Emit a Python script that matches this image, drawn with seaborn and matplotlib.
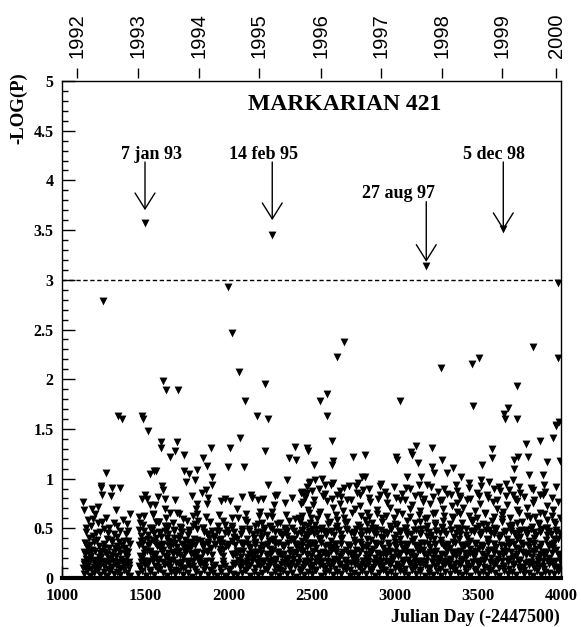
import matplotlib
matplotlib.use("Agg")
import matplotlib.pyplot as plt
import seaborn as sns
import pandas as pd
from matplotlib.ticker import MultipleLocator, FuncFormatter

# ---------------- data (Julian Day - 2447500, -log P) ----------------
high_points = [
    (1499, 3.57), (2264, 3.45), (3190, 3.14), (3653, 3.51), (3984, 2.97), (1996, 2.93), (1246, 2.79), (2024, 2.46),
    (2064, 2.07), (2223, 1.95), (2102, 1.78), (1605, 1.98), (1627, 1.89), (1697, 1.89), (1339, 1.63), (1363, 1.60),
    (1479, 1.63), (1489, 1.60), (1519, 1.48), (2174, 1.63), (2240, 1.60), (2695, 2.37), (2653, 2.22), (3279, 2.11),
    (3463, 2.15), (3505, 2.21), (3830, 2.32), (3984, 2.21), (3736, 1.93), (2591, 1.85), (2551, 1.78), (3034, 1.78),
    (3473, 1.73), (3684, 1.71), (3657, 1.65), (3662, 1.60), (3736, 1.60), (2595, 1.63), (3970, 1.54), (3990, 1.57),
    (1595, 1.37), (1593, 1.31), (1693, 1.37), (1681, 1.28), (1651, 1.22), (1732, 1.24), (1846, 1.21), (1896, 1.31),
    (2072, 1.41), (2008, 1.31), (2220, 1.28), (2399, 1.32), (2475, 1.31), (2367, 1.21), (2405, 1.19), (2000, 1.12),
    (2096, 1.12), (1872, 1.13), (1812, 1.09), (1733, 1.08), (1762, 1.05), (1567, 1.08), (1551, 1.08), (1529, 1.05),
    (1266, 1.06), (1900, 1.02), (2625, 1.38), (2477, 1.28), (2513, 1.14), (2625, 1.14), (2629, 1.18), (2750, 1.22),
    (2822, 1.24), (3010, 1.22), (3012, 1.19), (3098, 1.27), (3102, 1.24), (3130, 1.33), (3224, 1.31), (3142, 1.16),
    (3286, 1.19), (3222, 1.12), (3234, 1.06), (3313, 1.06), (3351, 1.11), (3527, 1.14), (3583, 1.30), (3583, 1.21),
    (3719, 1.19), (3743, 1.22), (3715, 1.10), (3800, 1.22), (3792, 1.35), (3874, 1.38), (3952, 1.41), (3968, 1.53),
    (3992, 1.18), (3914, 1.17), (3810, 1.04), (3894, 1.04), (3400, 1.02), (3072, 1.02), (3158, 1.02), (2804, 1.02),
    (2822, 1.02), (2561, 1.00),
]

mid_left = [
    (1232, .93), (1236, .91), (1302, .91), (1351, .91), (1240, .84), (1293, .82), (1126, .76), (1132, .68), (1178, .69), (1218, .71),
    (1198, .64), (1186, .59), (1326, .68), (1409, .64), (1391, .54), (1243, .56), (1174, .52), (1142, .46), (1254, .49), (1271, .39),
    (1194, .36), (1136, .35), (1349, .47), (1397, .47), (1399, .37), (1332, .41), (1359, .33), (1293, .38), (1222, .32), (1310, .44),
    (1160, .40), (1205, .45), (1280, .30), (1380, .30), (1150, .31), (1265, .60), (1315, .55), (1365, .58),
    (1185, .42), (1255, .30), (1345, .36), (1215, .55), (1155, .58), (1285, .50),
    (1140, .35), (1170, .33), (1210, .38), (1250, .34), (1300, .36), (1330, .32), (1375, .37), (1410, .34),
    (1145, .50), (1230, .46), (1275, .45), (1330, .52), (1385, .44),
]

mid_center = [
    (1802, .99), (1747, .97), (1902, .94), (1866, .89), (1840, .86), (2238, .94), (2353, .99), (2485, .96), (1501, .83), (1599, .93),
    (1609, .89), (1621, .79), (1511, .79), (1956, .77), (2008, .77), (1870, .74), (1812, .74), (1808, .69), (1814, .64), (2050, .69),
    (2058, .60), (2138, .84), (2140, .80), (2206, .79), (2275, .73), (2293, .84), (2343, .75), (2435, .86), (2471, .86), (2435, .74),
    (2483, .65), (2190, .66), (2231, .62), (2263, .66), (2401, .59), (2363, .57), (2180, .54), (2122, .49), (1966, .57), (1870, .44),
    (1918, .34), (1820, .57), (1729, .59), (1750, .57), (1693, .65), (1649, .65), (1565, .56), (1581, .56), (1617, .47), (1519, .43),
    (1633, .40), (1707, .42), (1477, .37), (1531, .73), (1561, .73), (1621, .69),
    (1460, .48), (1470, .55), (1490, .62), (1540, .50), (1550, .38), (1575, .33), (1590, .45), (1640, .52), (1660, .36), (1675, .48),
    (1690, .31), (1715, .50), (1740, .38), (1765, .46), (1780, .33), (1790, .52), (1835, .37), (1850, .50), (1885, .40), (1895, .30),
    (1930, .47), (1945, .38), (1980, .45), (1995, .32), (2020, .52), (2035, .40), (2075, .35), (2085, .47), (2100, .58), (2110, .39),
    (2150, .44), (2160, .33), (2200, .42), (2215, .50), (2245, .37), (2250, .52), (2280, .46), (2300, .35), (2310, .55), (2325, .42),
    (2340, .48), (2375, .38), (2385, .50), (2415, .44), (2420, .33), (2450, .53), (2460, .40), (2495, .47), (2500, .35), (1545, .64),
]

mid_right = [
    (2491, .97), (2523, .99), (2579, .94), (2627, .96), (2724, .93), (2780, .96), (2912, .93), (3196, .94), (3447, .96), (3519, .99),
    (3569, .97), (3629, .92), (3685, .89), (3713, .99),
    (2441, .87), (2461, .84), (2501, .88), (2581, .85), (2651, .83), (2671, .88), (2772, .86), (2812, .89), (2912, .84), (2942, .87),
    (3042, .85), (3092, .90), (3152, .83), (3263, .87), (3313, .85), (3373, .88), (3393, .82), (3493, .86), (3553, .84), (3633, .88),
    (3714, .83), (3754, .86), (3834, .89), (3874, .84), (3904, .87),
    (2451, .76), (2511, .73), (2591, .77), (2671, .74), (2712, .78), (2792, .72), (2852, .76), (2952, .75), (3032, .78), (3102, .73),
    (3172, .76), (3213, .74), (3273, .77), (3343, .72), (3373, .75), (3433, .78), (3513, .74), (3593, .76), (3673, .73), (3734, .77),
    (3834, .75), (3914, .72), (3984, .76),
    (2481, .68), (2551, .66), (2631, .70), (2692, .67), (2762, .69), (2832, .65), (2892, .68), (2972, .70), (3012, .66), (3092, .69),
    (3152, .67), (3233, .64), (3293, .69), (3373, .66), (3413, .70), (3483, .67), (3543, .65), (3613, .69), (3653, .66), (3734, .68),
    (3794, .70), (3874, .65), (3954, .68),
    (2431, .57), (2491, .55), (2531, .59), (2601, .54), (2651, .58), (2712, .56), (2782, .53), (2822, .58), (2862, .55), (2922, .60),
    (3002, .54), (3072, .57), (3122, .55), (3183, .59), (3243, .53), (3293, .57), (3353, .60), (3403, .55), (3473, .58), (3533, .54),
    (3583, .57), (3643, .59), (3704, .53), (3764, .56), (3814, .60), (3864, .55), (3914, .58), (3964, .54),
    (2440, .47), (2468, .44), (2500, .49), (2531, .45), (2560, .48), (2590, .43), (2621, .47), (2650, .50), (2680, .44), (2712, .48),
    (2740, .45), (2770, .49), (2800, .43), (2830, .47), (2862, .50), (2890, .44), (2920, .48), (2952, .45), (2980, .49), (3010, .43),
    (3040, .47), (3070, .50), (3100, .44), (3130, .48), (3160, .45), (3190, .49), (3220, .43), (3250, .47), (3282, .50), (3310, .44),
    (3340, .48), (3370, .45), (3400, .49), (3430, .43), (3460, .47), (3490, .50), (3520, .44), (3550, .48), (3580, .45), (3610, .49),
    (3640, .43), (3670, .47), (3700, .50), (3730, .44), (3760, .48), (3790, .45), (3820, .49), (3850, .43), (3880, .47), (3910, .50),
    (3940, .44), (3970, .48), (3995, .45),
]

row_092 = [
    (2470, .92), (2545, .90), (2620, .94), (2695, .91), (2770, .93), (2845, .90), (2920, .95), (2995, .92), (3070, .91), (3145, .94),
    (3220, .92), (3295, .90), (3370, .94), (3445, .91), (3520, .93), (3595, .90), (3670, .95), (3745, .92), (3820, .91), (3895, .94),
    (3970, .92),
]

row_080 = [
    (2460, .80), (2515, .78), (2570, .82), (2625, .79), (2680, .81), (2735, .78), (2790, .83), (2845, .80), (2900, .79), (2955, .82),
    (3010, .80), (3065, .78), (3120, .82), (3175, .79), (3230, .81), (3285, .78), (3340, .83), (3395, .80), (3450, .79), (3505, .82),
    (3560, .80), (3615, .78), (3670, .82), (3725, .79), (3780, .81), (3835, .78), (3890, .83), (3945, .80),
    (1480, .79), (1580, .81), (1680, .78), (1780, .82), (1880, .80), (1980, .79), (2080, .81), (2180, .78), (2280, .82), (2380, .80),
]

row_062 = [
    (2445, .62), (2495, .60), (2545, .64), (2595, .61), (2645, .63), (2695, .60), (2745, .65), (2795, .62), (2845, .61), (2895, .64),
    (2945, .62), (2995, .60), (3045, .64), (3095, .61), (3145, .63), (3195, .60), (3245, .65), (3295, .62), (3345, .61), (3395, .64),
    (3445, .62), (3495, .60), (3545, .64), (3595, .61), (3645, .63), (3695, .60), (3745, .65), (3795, .62), (3845, .61), (3895, .64),
    (3945, .62), (3995, .60),
    (1465, .61), (1545, .63), (1625, .60), (1705, .64), (1785, .62), (1865, .61), (1945, .63), (2025, .60), (2105, .64), (2185, .62),
    (2265, .61), (2345, .63), (2425, .60),
]

row_052 = [
    (1485, .53), (1530, .50), (1575, .56), (1620, .52), (1665, .55), (1710, .51), (1800, .54), (1845, .50), (1890, .56), (1935, .52),
    (1980, .53), (2025, .50), (2115, .56), (2160, .52), (2205, .55), (2250, .51), (2295, .54), (2340, .50), (2430, .56), (2475, .52),
    (2520, .53), (2565, .50), (2610, .56), (2655, .52), (2700, .55), (2790, .51), (2835, .54), (2880, .50), (2925, .56), (2970, .52),
    (3015, .53), (3060, .50), (3150, .56), (3195, .52), (3240, .55), (3285, .51), (3330, .54), (3375, .50), (3465, .56), (3510, .52),
    (3555, .53), (3600, .50), (3645, .56), (3690, .52), (3735, .55), (3825, .51), (3870, .54), (3915, .50), (3960, .56),
]

row_047 = [
    (1495, .47), (1540, .48), (1585, .46), (1630, .49), (1675, .47), (1720, .46), (1765, .48), (1810, .49), (1855, .46), (1900, .47),
    (1945, .47), (1990, .48), (2035, .46), (2080, .49), (2125, .47), (2170, .46), (2215, .48), (2260, .49), (2305, .46), (2350, .47),
    (2395, .47), (2440, .48), (2485, .46), (2530, .49), (2575, .47), (2620, .46), (2665, .48), (2710, .49), (2755, .46), (2800, .47),
    (2845, .47), (2890, .48), (2935, .46), (2980, .49), (3025, .47), (3070, .46), (3115, .48), (3160, .49), (3205, .46), (3250, .47),
    (3295, .47), (3340, .48), (3385, .46), (3430, .49), (3475, .47), (3520, .46), (3565, .48), (3610, .49), (3655, .46), (3700, .47),
    (3745, .47), (3790, .48), (3835, .46), (3880, .49), (3925, .47), (3970, .46),
]

row_042 = [
    (1475, .42), (1515, .39), (1555, .45), (1595, .41), (1635, .44), (1675, .40), (1715, .46), (1755, .43), (1795, .39), (1875, .44),
    (1915, .42), (1955, .39), (1995, .45), (2035, .41), (2075, .44), (2155, .40), (2195, .46), (2235, .43), (2275, .39), (2315, .44),
    (2355, .42), (2395, .39), (2435, .45), (2475, .41), (2515, .44), (2555, .40), (2595, .46), (2635, .43), (2675, .39), (2755, .44),
    (2795, .42), (2835, .39), (2875, .45), (2915, .41), (2955, .44), (2995, .40), (3035, .46), (3075, .43), (3115, .39), (3155, .44),
    (3195, .42), (3235, .39), (3275, .45), (3355, .41), (3395, .44), (3435, .40), (3475, .46), (3515, .43), (3555, .39), (3595, .44),
    (3635, .42), (3675, .39), (3715, .45), (3755, .41), (3795, .44), (3835, .40), (3875, .46), (3915, .43), (3955, .39), (3995, .44),
]

row_036 = [
    (1460, .33), (1495, .38), (1530, .35), (1565, .40), (1600, .32), (1635, .37), (1670, .34), (1705, .39), (1740, .31), (1775, .36),
    (1810, .38), (1845, .33), (1880, .36), (1915, .40), (1950, .35), (1985, .32), (2020, .37), (2055, .39), (2090, .34), (2125, .31),
    (2160, .36), (2195, .40), (2230, .33), (2265, .38), (2300, .35), (2335, .32), (2370, .39), (2405, .34), (2440, .37), (2475, .31),
    (2510, .35), (2545, .39), (2580, .32), (2615, .37), (2650, .34), (2685, .40), (2720, .33), (2755, .38), (2790, .36), (2825, .31),
    (2860, .38), (2895, .34), (2930, .40), (2965, .32), (3000, .36), (3035, .39), (3070, .33), (3105, .37), (3140, .31), (3175, .35),
    (3210, .40), (3245, .34), (3280, .38), (3315, .32), (3350, .36), (3385, .39), (3420, .33), (3455, .37), (3490, .35), (3525, .31),
    (3560, .38), (3595, .34), (3630, .40), (3665, .32), (3700, .36), (3735, .39), (3770, .33), (3805, .37), (3840, .35), (3875, .31),
    (3910, .38), (3945, .34), (3980, .39),
]

row_034 = [
    (1480, .34), (1520, .33), (1560, .35), (1600, .34), (1640, .33), (1680, .35), (1720, .34), (1760, .35), (1800, .33), (1840, .34),
    (1880, .34), (1920, .33), (1960, .35), (2000, .34), (2040, .33), (2080, .35), (2120, .34), (2160, .35), (2200, .33), (2240, .34),
    (2280, .34), (2320, .33), (2360, .35), (2400, .34), (2440, .33), (2480, .35), (2520, .34), (2560, .35), (2600, .33), (2640, .34),
    (2680, .34), (2720, .33), (2760, .35), (2800, .34), (2840, .33), (2880, .35), (2920, .34), (2960, .35), (3000, .33), (3040, .34),
    (3080, .34), (3120, .33), (3160, .35), (3200, .34), (3240, .33), (3280, .35), (3320, .34), (3360, .35), (3400, .33), (3440, .34),
    (3480, .34), (3520, .33), (3560, .35), (3600, .34), (3640, .33), (3680, .35), (3720, .34), (3760, .35), (3800, .33), (3840, .34),
    (3880, .34), (3920, .33), (3960, .35),
]

low_left = [
    (1130, .04), (1150, .07), (1170, .02), (1190, .05), (1210, .08), (1230, .03), (1250, .06), (1270, .02), (1290, .07), (1310, .04),
    (1330, .06), (1350, .03), (1370, .08), (1390, .05), (1410, .02),
    (1135, .14), (1165, .18), (1195, .11), (1225, .16), (1255, .12), (1285, .19), (1315, .15), (1345, .10), (1375, .17), (1400, .13),
    (1140, .24), (1180, .28), (1220, .21), (1260, .26), (1300, .23), (1340, .29), (1380, .25),
    (1125, .10), (1150, .12), (1175, .09), (1200, .13), (1225, .10), (1250, .12), (1275, .09), (1300, .11), (1325, .13), (1350, .09),
    (1375, .12), (1405, .10),
    (1145, .19), (1175, .22), (1205, .18), (1235, .21), (1265, .17), (1295, .20), (1325, .22), (1355, .19), (1390, .21),
    (1160, .28), (1240, .27), (1320, .30), (1395, .26),
    (1130, .16), (1160, .15), (1190, .17), (1220, .14), (1250, .16), (1280, .15), (1310, .17), (1340, .16), (1370, .14), (1400, .16),
    (1135, .26), (1165, .24), (1200, .27), (1230, .25), (1270, .24), (1310, .26), (1350, .25), (1385, .27),
]

low_a = [
    (1455, .04), (1480, .07), (1505, .02), (1530, .06), (1555, .03), (1580, .08), (1605, .05), (1630, .02), (1655, .06), (1680, .04),
    (1705, .07), (1730, .03), (1755, .05), (1780, .01), (1805, .06), (1830, .04), (1855, .08), (1880, .03), (1905, .05), (1930, .02),
    (1955, .06), (1980, .02), (2005, .07), (2030, .04), (2055, .03), (2080, .05), (2105, .08), (2130, .02), (2155, .06), (2180, .03),
    (2205, .05), (2230, .08), (2255, .03), (2280, .06), (2305, .02), (2330, .07), (2355, .04), (2380, .05), (2405, .01), (2430, .06),
    (2455, .03), (2480, .06), (2505, .04), (2530, .08), (2555, .02), (2580, .05), (2605, .07), (2630, .03), (2655, .06), (2680, .04),
    (2705, .08), (2730, .02), (2755, .05), (2780, .03), (2805, .07), (2830, .04), (2855, .06), (2880, .02), (2905, .05), (2930, .08),
    (2955, .04), (2980, .06), (3005, .02), (3030, .07), (3055, .05), (3080, .03), (3105, .08), (3130, .04), (3155, .06), (3180, .02),
    (3205, .05), (3230, .03), (3255, .07), (3280, .02), (3305, .06), (3330, .04), (3355, .08), (3380, .05), (3405, .03), (3430, .06),
    (3455, .02), (3480, .07), (3505, .04), (3530, .06), (3555, .03), (3580, .08), (3605, .05), (3630, .02), (3655, .07), (3680, .04),
    (3705, .06), (3730, .03), (3755, .08), (3780, .04), (3805, .05), (3830, .02), (3855, .07), (3880, .03), (3905, .06), (3930, .05),
    (3955, .04), (3980, .07),
]

low_b = [
    (1460, .12), (1490, .17), (1520, .14), (1550, .19), (1580, .11), (1610, .16), (1640, .13), (1670, .18), (1700, .15), (1730, .10),
    (1760, .16), (1790, .12), (1820, .19), (1850, .14), (1910, .11), (1970, .17), (2030, .13), (2060, .18), (2090, .15),
    (2120, .11), (2150, .19), (2180, .14), (2210, .17), (2240, .12), (2270, .18), (2300, .10), (2330, .16), (2360, .13), (2390, .19),
    (2420, .15), (2450, .11), (2480, .17), (2510, .13), (2540, .19), (2570, .12), (2600, .16), (2630, .14), (2660, .18), (2690, .10),
    (2720, .15), (2750, .19), (2780, .12), (2810, .17), (2840, .14), (2870, .11), (2900, .18), (2930, .13), (2960, .16), (2990, .19),
    (3020, .11), (3050, .15), (3080, .18), (3110, .12), (3140, .17), (3170, .14), (3200, .10), (3230, .16), (3260, .19), (3290, .13),
    (3320, .17), (3350, .11), (3380, .15), (3410, .19), (3440, .12), (3470, .16), (3500, .14), (3530, .18), (3560, .10), (3590, .15),
    (3620, .19), (3650, .12), (3680, .17), (3710, .13), (3740, .18), (3770, .11), (3800, .16), (3830, .14), (3860, .19), (3890, .12),
    (3920, .17), (3950, .15), (3980, .11),
]

low_c = [
    (1470, .22), (1510, .27), (1550, .24), (1590, .30), (1630, .21), (1670, .26), (1710, .23), (1750, .28), (1790, .25), (1830, .20),
    (1870, .26), (1950, .29), (2030, .23), (2070, .27), (2110, .21), (2150, .25), (2190, .30), (2230, .22),
    (2270, .28), (2310, .24), (2350, .20), (2390, .26), (2430, .29), (2470, .23), (2510, .27), (2550, .21), (2590, .25), (2630, .30),
    (2670, .22), (2710, .28), (2750, .24), (2790, .26), (2830, .20), (2870, .29), (2910, .23), (2950, .27), (2990, .21), (3030, .25),
    (3070, .30), (3110, .22), (3150, .28), (3190, .24), (3230, .26), (3270, .20), (3310, .29), (3350, .23), (3390, .27), (3430, .21),
    (3470, .25), (3510, .30), (3550, .22), (3590, .28), (3630, .24), (3670, .26), (3710, .20), (3750, .29), (3790, .23), (3830, .27),
    (3870, .21), (3910, .25), (3950, .30), (3990, .22),
]

low_d = [
    (1470, .10), (1500, .13), (1530, .08), (1560, .12), (1590, .09), (1620, .14), (1650, .11), (1680, .08), (1710, .13), (1740, .10),
    (1770, .12), (1800, .09), (1830, .14), (1860, .11), (1890, .08), (1920, .13), (1950, .10), (1980, .12), (2010, .09), (2040, .14),
    (2070, .11), (2100, .08), (2130, .13), (2160, .10), (2190, .12), (2220, .09), (2250, .14), (2280, .11), (2310, .08), (2340, .13),
    (2370, .10), (2400, .12), (2430, .09), (2460, .14), (2490, .11), (2520, .08), (2550, .13), (2580, .10), (2610, .12), (2640, .09),
    (2670, .14), (2700, .11), (2730, .08), (2760, .13), (2790, .10), (2820, .12), (2850, .09), (2880, .14), (2910, .11), (2940, .08),
    (2970, .13), (3000, .10), (3030, .12), (3060, .09), (3090, .14), (3120, .11), (3150, .08), (3180, .13), (3210, .10), (3240, .12),
    (3270, .09), (3300, .14), (3330, .11), (3360, .08), (3390, .13), (3420, .10), (3450, .12), (3480, .09), (3510, .14), (3540, .11),
    (3570, .08), (3600, .13), (3630, .10), (3660, .12), (3690, .09), (3720, .14), (3750, .11), (3780, .08), (3810, .13), (3840, .10),
    (3870, .12), (3900, .09), (3930, .14), (3960, .11), (3990, .08),
]

low_e = [
    (1480, .20), (1515, .17), (1550, .23), (1585, .19), (1620, .22), (1655, .18), (1690, .24), (1725, .21), (1760, .17), (1795, .22),
    (1830, .20), (1865, .17), (1900, .23), (1970, .22), (2040, .24), (2075, .21), (2110, .17), (2145, .22),
    (2180, .20), (2215, .17), (2250, .23), (2285, .19), (2320, .22), (2355, .18), (2390, .24), (2425, .21), (2460, .17), (2495, .22),
    (2530, .20), (2565, .17), (2600, .23), (2635, .19), (2670, .22), (2705, .18), (2740, .24), (2775, .21), (2810, .17), (2845, .22),
    (2880, .20), (2915, .17), (2950, .23), (2985, .19), (3020, .22), (3055, .18), (3090, .24), (3125, .21), (3160, .17), (3195, .22),
    (3230, .20), (3265, .17), (3300, .23), (3335, .19), (3370, .22), (3405, .18), (3440, .24), (3475, .21), (3510, .17), (3545, .22),
    (3580, .20), (3615, .17), (3650, .23), (3685, .19), (3720, .22), (3755, .18), (3790, .24), (3825, .21), (3860, .17), (3895, .22),
    (3930, .20), (3965, .17),
]

low_f = [
    (1490, .29), (1530, .26), (1570, .32), (1610, .28), (1650, .31), (1690, .27), (1730, .33), (1770, .30), (1810, .26), (1850, .31),
    (1970, .28), (2050, .27), (2090, .33), (2130, .30), (2170, .26), (2210, .31),
    (2250, .29), (2290, .26), (2330, .32), (2370, .28), (2410, .31), (2450, .27), (2490, .33), (2530, .30), (2570, .26), (2610, .31),
    (2650, .29), (2690, .26), (2730, .32), (2770, .28), (2810, .31), (2850, .27), (2890, .33), (2930, .30), (2970, .26), (3010, .31),
    (3050, .29), (3090, .26), (3130, .32), (3170, .28), (3210, .31), (3250, .27), (3290, .33), (3330, .30), (3370, .26), (3410, .31),
    (3450, .29), (3490, .26), (3530, .32), (3570, .28), (3610, .31), (3650, .27), (3690, .33), (3730, .30), (3770, .26), (3810, .31),
    (3850, .29), (3890, .26), (3930, .32), (3970, .28),
]

low_g = [
    (1475, .16), (1510, .15), (1545, .17), (1580, .16), (1615, .14), (1650, .17), (1685, .15), (1720, .16), (1755, .14), (1790, .17),
    (1825, .16), (1860, .15), (1895, .17), (1965, .14), (2035, .15), (2070, .16), (2105, .14), (2140, .17),
    (2175, .16), (2210, .15), (2245, .17), (2280, .16), (2315, .14), (2350, .17), (2385, .15), (2420, .16), (2455, .14), (2490, .17),
    (2525, .16), (2560, .15), (2595, .17), (2630, .16), (2665, .14), (2700, .17), (2735, .15), (2770, .16), (2805, .14), (2840, .17),
    (2875, .16), (2910, .15), (2945, .17), (2980, .16), (3015, .14), (3050, .17), (3085, .15), (3120, .16), (3155, .14), (3190, .17),
    (3225, .16), (3260, .15), (3295, .17), (3330, .16), (3365, .14), (3400, .17), (3435, .15), (3470, .16), (3505, .14), (3540, .17),
    (3575, .16), (3610, .15), (3645, .17), (3680, .16), (3715, .14), (3750, .17), (3785, .15), (3820, .16), (3855, .14), (3890, .17),
    (3925, .16), (3960, .15), (3995, .17),
]

low_h = [
    (1495, .25), (1530, .27), (1565, .24), (1600, .26), (1635, .25), (1670, .24), (1705, .27), (1740, .26), (1775, .24), (1810, .25),
    (1845, .25), (1880, .27), (1950, .26), (2020, .24), (2055, .25), (2090, .27), (2125, .24), (2160, .26),
    (2195, .25), (2230, .24), (2265, .27), (2300, .26), (2335, .24), (2370, .25), (2405, .25), (2440, .27), (2475, .24), (2510, .26),
    (2545, .25), (2580, .24), (2615, .27), (2650, .26), (2685, .24), (2720, .25), (2755, .25), (2790, .27), (2825, .24), (2860, .26),
    (2895, .25), (2930, .24), (2965, .27), (3000, .26), (3035, .24), (3070, .25), (3105, .25), (3140, .27), (3175, .24), (3210, .26),
    (3245, .25), (3280, .24), (3315, .27), (3350, .26), (3385, .24), (3420, .25), (3455, .25), (3490, .27), (3525, .24), (3560, .26),
    (3595, .25), (3630, .24), (3665, .27), (3700, .26), (3735, .24), (3770, .25), (3805, .25), (3840, .27), (3875, .24), (3910, .26),
    (3945, .25), (3980, .24),
]

year_labels = ["1992", "1993", "1994", "1995", "1996", "1997", "1998", "1999", "2000"]
year_days = [1092, 1455, 1825, 2186, 2555, 2918, 3286, 3647, 3970]

event_labels = ["7 jan 93", "14 feb 95", "27 aug 97", "5 dec 98"]
event_days = [1499, 2264, 3190, 3653]
event_label_x = [1541, 2214, 3026, 3597]
event_label_y = [4.22, 4.22, 3.82, 4.215]
arrow_start = [4.185, 4.185, 3.786, 4.185]
arrow_tip = [3.70, 3.60, 3.18, 3.50]

threshold = 3.0

# ---------------- build table ----------------
all_points = (high_points + mid_left + mid_center + mid_right + row_092 + row_080 + row_062 + row_052
              + row_047 + row_042 + row_036 + row_034 + low_left + low_a + low_b + low_c + low_d
              + low_e + low_f + low_g + low_h)
df = pd.DataFrame({"day": [p[0] for p in all_points], "logp": [p[1] for p in all_points]})

sns.set_theme(style="ticks")
plt.rcParams["font.family"] = ["Liberation Serif", "DejaVu Serif"]

W, H = 581, 627
fig = plt.figure(figsize=(W / 100, H / 100), dpi=100)
ax = fig.add_axes([62 / W, 49 / H, 499 / W, 497 / H])

sns.scatterplot(data=df, x="day", y="logp", marker="v", s=32, color="black",
                linewidth=0, ax=ax, zorder=3, clip_on=True)

ax.axhline(threshold, color="black", lw=1.0, dashes=(3.1, 1.9), zorder=2)

ax.set_xlim(1000, 4000)
ax.set_ylim(0, 5)

ax.xaxis.set_major_locator(MultipleLocator(500))
ax.yaxis.set_major_locator(MultipleLocator(0.5))
ax.yaxis.set_minor_locator(MultipleLocator(0.1))
ax.yaxis.set_major_formatter(FuncFormatter(lambda v, p: "%g" % v))
ax.xaxis.set_major_formatter(FuncFormatter(lambda v, p: "%d" % v))

ax.tick_params(axis="y", which="major", direction="in", length=9, width=1, color="black",
               labelsize=11.5, pad=6, labelcolor="black")
ax.tick_params(axis="y", which="minor", direction="in", length=4.5, width=1, color="black")
ax.tick_params(axis="x", which="major", direction="in", length=9, width=1, color="black",
               labelsize=12, pad=7, labelcolor="black")
ax.tick_params(top=False, right=False)

for side in ["left", "top", "right"]:
    ax.spines[side].set_color("black")
    ax.spines[side].set_linewidth(1.0)
ax.spines["bottom"].set_color("black")
ax.spines["bottom"].set_linewidth(3.0)
ax.set_xlabel("")
ax.set_ylabel("")
ax.grid(False)

# top year axis (sans-serif labels)
plt.rcParams["font.family"] = ["Liberation Sans", "DejaVu Sans"]
ax2 = ax.twiny()
ax2.set_xlim(ax.get_xlim())
ax2.spines["top"].set_position(("outward", 2.2))
for side in ["left", "top", "right", "bottom"]:
    ax2.spines[side].set_visible(False)
ax2.tick_params(axis="x", which="major", direction="out", length=7.2, width=1, color="black",
                pad=7, labelsize=14.5, labelrotation=90, labelcolor="black")
ax2.tick_params(axis="x", which="minor", length=0)
ax2.set_xticks(year_days)
ax2.set_xticklabels(year_labels, family=["Liberation Sans", "DejaVu Sans"], fontweight="normal")
ax2.grid(False)
plt.rcParams["font.family"] = ["Liberation Serif", "DejaVu Serif"]

# title inside plot
ax.text((345 - 62) / 499, (578 - 110) / 497, "MARKARIAN 421", transform=ax.transAxes,
        ha="center", va="baseline", fontsize=17, fontweight="bold", color="black")

# event annotations
for lab, xd, lx, ly, ys, yt in zip(event_labels, event_days, event_label_x, event_label_y,
                                   arrow_start, arrow_tip):
    ax.text(lx, ly, lab, ha="center", va="baseline", fontsize=13, fontweight="bold", color="black")
    ax.annotate("", xy=(xd, yt), xytext=(xd, ys),
                arrowprops=dict(arrowstyle="->,head_length=0.88,head_width=0.55", lw=1.0,
                                color="black", mutation_scale=13, shrinkA=0, shrinkB=0))

# axis titles
fig.text(560 / W, 1 - 617 / H, "Julian Day (-2447500)", ha="right", va="center",
         fontsize=13, fontweight="bold", color="black")
fig.text(19 / W, 1 - 72 / H, "-LOG(P)", ha="center", va="top", rotation=90,
         fontsize=13.5, fontweight="bold", color="black")

fig.canvas.draw()
for lab in ax.get_xticklabels() + ax.get_yticklabels():
    lab.set_fontweight("bold")
for t in ax2.xaxis.get_major_ticks():
    t.label2.set_fontfamily(["Liberation Sans", "DejaVu Sans"])
    t.label2.set_fontweight("normal")

fig.savefig("out.png", dpi=100, facecolor="white")
